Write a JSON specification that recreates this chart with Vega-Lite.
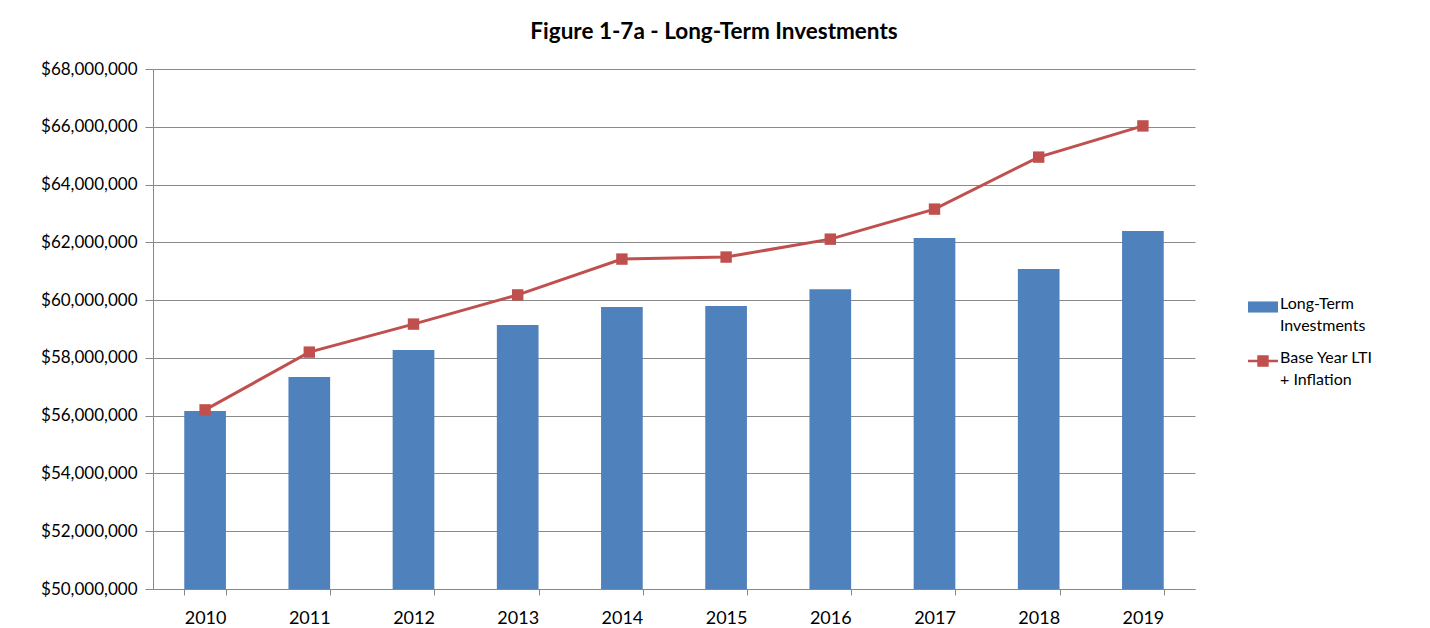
{
  "$schema": "https://vega.github.io/schema/vega-lite/v6.json",
  "width": 1042,
  "height": 520,
  "autosize": {"type": "none"},
  "padding": {"left": 153, "top": 69, "right": 235, "bottom": 39},
  "background": "white",
  "config": {
    "font": "Lato",
    "view": {"stroke": null},
    "axis": {"labelColor": "#000000", "domainColor": "#888888", "tickColor": "#888888", "gridColor": "#8a8a8a"}
  },
  "title": {
    "text": "Figure 1-7a - Long-Term Investments",
    "fontSize": 22.5,
    "fontWeight": "bold",
    "font": "Lato",
    "color": "#000000",
    "anchor": "middle",
    "dx": 40,
    "offset": 17
  },
  "data": {
    "values": [
      {"year": "2010", "series": "Long-Term Investments", "value": 56160000},
      {"year": "2011", "series": "Long-Term Investments", "value": 57340000},
      {"year": "2012", "series": "Long-Term Investments", "value": 58270000},
      {"year": "2013", "series": "Long-Term Investments", "value": 59140000},
      {"year": "2014", "series": "Long-Term Investments", "value": 59760000},
      {"year": "2015", "series": "Long-Term Investments", "value": 59800000},
      {"year": "2016", "series": "Long-Term Investments", "value": 60380000},
      {"year": "2017", "series": "Long-Term Investments", "value": 62150000},
      {"year": "2018", "series": "Long-Term Investments", "value": 61080000},
      {"year": "2019", "series": "Long-Term Investments", "value": 62390000},
      {"year": "2010", "series": "Base Year LTI + Inflation", "value": 56200000},
      {"year": "2011", "series": "Base Year LTI + Inflation", "value": 58200000},
      {"year": "2012", "series": "Base Year LTI + Inflation", "value": 59170000},
      {"year": "2013", "series": "Base Year LTI + Inflation", "value": 60180000},
      {"year": "2014", "series": "Base Year LTI + Inflation", "value": 61420000},
      {"year": "2015", "series": "Base Year LTI + Inflation", "value": 61490000},
      {"year": "2016", "series": "Base Year LTI + Inflation", "value": 62110000},
      {"year": "2017", "series": "Base Year LTI + Inflation", "value": 63150000},
      {"year": "2018", "series": "Base Year LTI + Inflation", "value": 64950000},
      {"year": "2019", "series": "Base Year LTI + Inflation", "value": 66030000}
    ]
  },
  "encoding": {
    "x": {
      "field": "year",
      "type": "ordinal",
      "scale": {"paddingInner": 0.6, "paddingOuter": 0.3},
      "axis": {
        "title": null,
        "labelAngle": 0,
        "labelFontSize": 18,
        "labelPadding": 14,
        "tickBand": "extent",
        "tickSize": 6,
        "grid": false,
        "zindex": 1
      }
    },
    "y": {
      "field": "value",
      "type": "quantitative",
      "scale": {"domain": [50000000, 68000000], "nice": false, "zero": false},
      "axis": {
        "title": null,
        "values": [50000000, 52000000, 54000000, 56000000, 58000000, 60000000, 62000000, 64000000, 66000000, 68000000],
        "format": "$,.0f",
        "labelFontSize": 17,
        "tickSize": 8,
        "labelPadding": 8,
        "grid": true
      }
    },
    "color": {
      "field": "series",
      "type": "nominal",
      "scale": {"domain": ["Long-Term Investments", "Base Year LTI + Inflation"], "range": ["#4F81BD", "#C0504D"]},
      "legend": {
        "title": null,
        "orient": "none",
        "legendX": 1095,
        "legendY": 223,
        "labelFontSize": 16,
        "labelExpr": "datum.label == 'Long-Term Investments' ? ['Long-Term', 'Investments'] : ['Base Year LTI', '+ Inflation']",
        "labelLimit": 200,
        "labelOffset": 2,
        "rowPadding": 12,
        "symbolSize": 900,
        "labelBaseline": "top",
        "symbolOffset": 0,
        "encode": {
          "symbols": {
            "update": {
              "shape": {"signal": "datum.value == 'Long-Term Investments' ? 'M-1,-0.37H1V0.37H-1Z' : 'M-1,-0.09H1V0.09H-1Z M-0.38,-0.38H0.38V0.38H-0.38Z'"},
              "fill": {"scale": "color", "field": "value"},
              "stroke": {"value": null},
              "strokeWidth": {"value": 0},
              "opacity": {"value": 1},
              "fillOpacity": {"value": 1}
            }
          },
          "labels": {
            "update": {"dy": {"value": -11}, "lineHeight": {"value": 22}}
          }
        }
      }
    }
  },
  "layer": [
    {
      "transform": [{"filter": "datum.series == 'Long-Term Investments'"}],
      "mark": {"type": "bar"},
      "encoding": {"y2": {"datum": 50000000}}
    },
    {
      "transform": [{"filter": "datum.series == 'Base Year LTI + Inflation'"}],
      "mark": {"type": "line", "strokeWidth": 3, "point": {"shape": "square", "size": 130, "filled": true, "opacity": 1}}
    }
  ]
}
